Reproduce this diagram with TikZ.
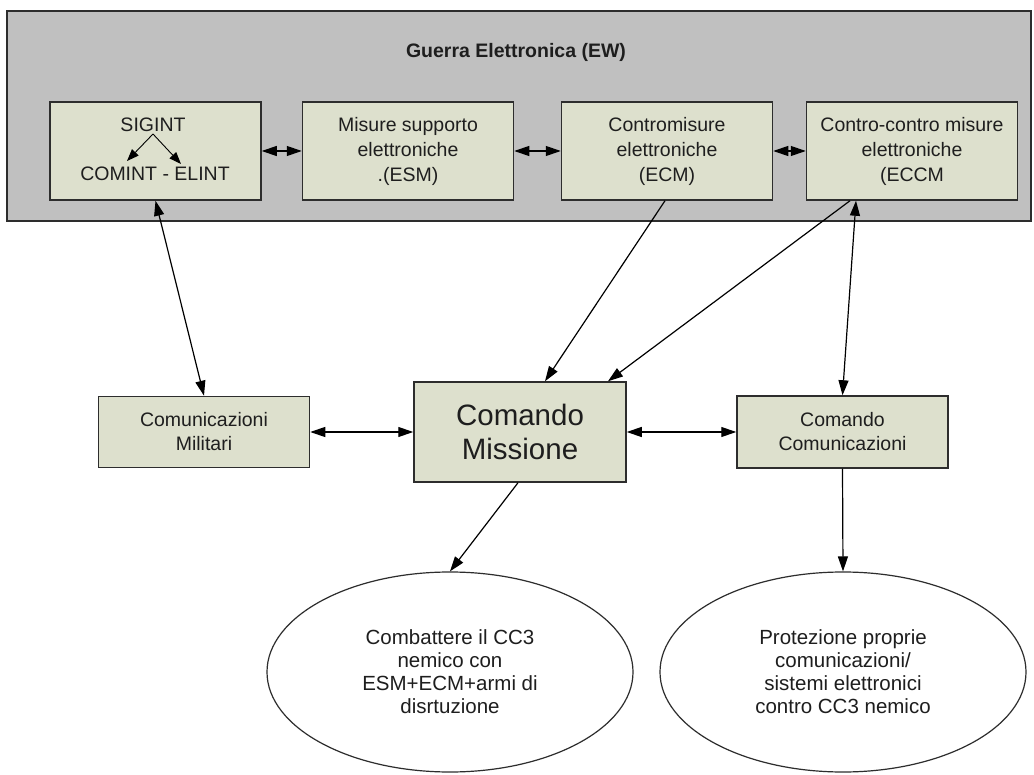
\documentclass[tikz,border=0pt]{standalone}
\usepackage{fontspec}
\setmainfont{Liberation Sans}
\usetikzlibrary{arrows.meta,shapes.geometric}
\definecolor{ewgray}{RGB}{192,192,192}
\definecolor{boxfill}{RGB}{221,224,205}
\definecolor{edge}{RGB}{45,45,45}
\definecolor{ink}{RGB}{30,30,30}
\tikzset{
  ewbox/.style={draw=edge,line width=1.5pt,fill=ewgray,inner sep=0pt},
  unitbox/.style={draw=edge,line width=1.5pt,fill=boxfill,inner sep=0pt,
    minimum width=211pt,align=center,text=ink,
    font=\fontsize{19.5}{25}\selectfont},
  goalell/.style={ellipse,draw=edge,line width=1.2pt,fill=white,inner sep=0pt,
    minimum width=366pt,minimum height=200pt,align=center,text=ink,
    font=\fontsize{20.5}{23}\selectfont},
  link/.style={draw=black,line width=1.2pt},
  bigtip/.tip={Triangle[length=15pt,width=10pt]},
  smalltip/.tip={Triangle[length=12pt,width=9pt]},
}
\begin{document}
\begin{tikzpicture}[x=1pt,y=-1pt]
\useasboundingbox (0,0) rectangle (1034,775);
\fill[white] (0,0) rectangle (1034,775);

% electronic warfare frame
\node[ewbox,minimum width=1024pt,minimum height=210pt] (ew) at (519,116) {};
\node[text=ink,font=\bfseries\fontsize{19.5}{22}\selectfont] (title) at (516,52) {Guerra Elettronica (EW)};

% top row
\node[unitbox,minimum height=98pt] (sig) at (155.5,151) {};
\node[text=ink,font=\fontsize{19.5}{22}\selectfont] (sigint) at (153,125) {SIGINT};
\node[text=ink,font=\fontsize{19.5}{22}\selectfont] (comint) at (155,174) {COMINT - ELINT};
\coordinate (fork) at (153,134);
\coordinate (tipa) at (127,161);
\coordinate (tipb) at (181,164);
\draw[link,line width=0.9pt,-{smalltip}] (fork) -- (tipa);
\draw[link,line width=0.9pt,-{smalltip}] (fork) -- (tipb);

\node[unitbox,minimum height=98pt] (esm) at (408,151) {Misure supporto\\elettroniche\\.(ESM)};
\node[unitbox,minimum height=98pt] (ecm) at (667,151) {Contromisure\\elettroniche\\(ECM)};
\node[unitbox,minimum height=98pt] (eccm) at (912,151) {Contro-contro misure\\elettroniche\\(ECCM};

% middle row
\node[unitbox,minimum height=71pt,font=\fontsize{19.5}{24}\selectfont] (cmil) at (204,432) {Comunicazioni\\Militari};
\node[unitbox,minimum width=212pt,minimum height=100pt,
      font=\fontsize{29.5}{34}\selectfont] (cmis) at (520,432) {Comando\\Missione};
\node[unitbox,minimum height=72pt,font=\fontsize{19.5}{24}\selectfont] (ccom) at (842.5,432) {Comando\\Comunicazioni};

% goals
\node[goalell] (el1) at (450,672) {Combattere il CC3\\nemico con\\ESM+ECM+armi di\\disrtuzione};
\node[goalell] (el2) at (843,672) {Protezione proprie\\comunicazioni/\\sistemi elettronici\\contro CC3 nemico};

% connectors in the frame
\draw[link,{bigtip}-{bigtip}] (sig.east) -- (esm.west);
\draw[link,{bigtip}-{bigtip}] (esm.east) -- (ecm.west);
\draw[link,{bigtip}-{bigtip}] (ecm.east) -- (eccm.west);

% connectors between rows
\draw[link,{bigtip}-{bigtip}] (sig.south) -- (cmil.north);
\draw[link,-{bigtip}] ([xshift=-2pt]ecm.south) -- ([xshift=25pt]cmis.north);
\draw[link,-{bigtip}] ([xshift=-62pt]eccm.south) -- ([xshift=88pt]cmis.north);
\draw[link,{bigtip}-{bigtip}] ([xshift=-56pt]eccm.south) -- (ccom.north);
\draw[link,{bigtip}-{bigtip}] (cmil.east) -- (cmis.west);
\draw[link,{bigtip}-{bigtip}] (cmis.east) -- (ccom.west);
\draw[link,-{bigtip}] ([xshift=-2pt]cmis.south) -- (el1.north);
\draw[link,-{bigtip}] (ccom.south) -- (el2.north);
\end{tikzpicture}
\end{document}
